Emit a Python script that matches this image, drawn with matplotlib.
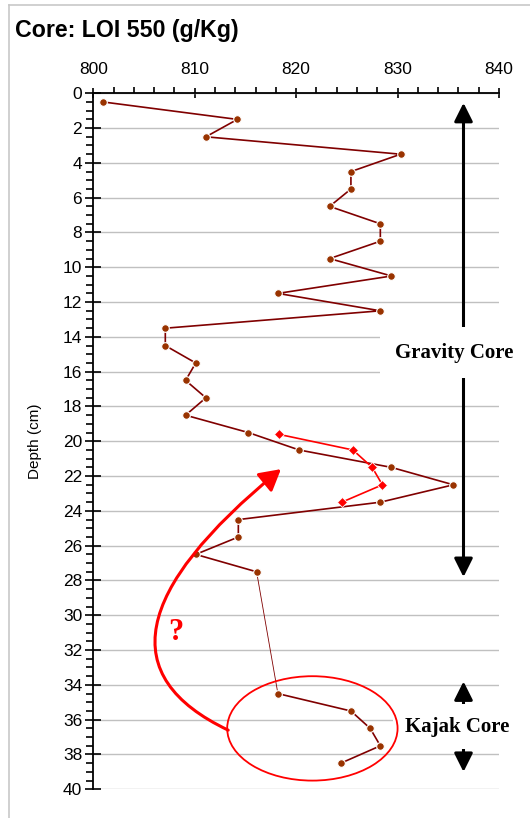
import matplotlib
matplotlib.use("Agg")
import matplotlib.pyplot as plt
from matplotlib.patches import Ellipse, FancyArrowPatch
from matplotlib.path import Path
from matplotlib.ticker import MultipleLocator

# LOI 550 (g/Kg) against depth (cm)
grav_depth = [0.5, 1.5, 2.5, 3.5, 4.5, 5.5, 6.5, 7.5, 8.5, 9.5, 10.5, 11.5, 12.5, 13.5,
              14.5, 15.5, 16.5, 17.5, 18.5, 19.5, 20.5, 21.5, 22.5, 23.5, 24.5, 25.5, 26.5, 27.5]
grav_loi = [801.0, 814.2, 811.1, 830.3, 825.4, 825.4, 823.3, 828.3, 828.3, 823.3, 829.4, 818.2,
            828.3, 807.1, 807.1, 810.1, 809.1, 811.1, 809.1, 815.3, 820.3, 829.4, 835.5, 828.3,
            814.3, 814.3, 810.1, 816.1]

kajak_depth = [34.5, 35.5, 36.5, 37.5, 38.5]
kajak_loi = [818.2, 825.4, 827.3, 828.3, 824.4]

# kajak core shifted up to where it seems to fit
shift_depth = [19.6, 20.5, 21.5, 22.5, 23.5]
shift_loi = [818.3, 825.6, 827.5, 828.5, 824.5]

plt.rcParams['font.family'] = ['Liberation Sans', 'DejaVu Sans']

fig = plt.figure(figsize=(5.3, 8.18), dpi=100)
ax = fig.add_axes([93.3 / 530, 1 - 789.3 / 818, (499 - 93.3) / 530, (789.3 - 93.3) / 818])

# light frame round the chart area
fig.add_artist(plt.Line2D([9 / 530, 9 / 530], [0, 1 - 5 / 818], transform=fig.transFigure,
                          color='#c8c8c8', lw=1.2))
fig.add_artist(plt.Line2D([9 / 530, 1], [1 - 5 / 818, 1 - 5 / 818], transform=fig.transFigure,
                          color='#c8c8c8', lw=1.2))

fig.text(15 / 530, 1 - 37 / 818, "Core: LOI 550 (g/Kg)", fontsize=16.7, fontweight='bold',
         va='baseline', ha='left')

ax.set_xlim(800, 840)
ax.set_ylim(40, 0)
ax.xaxis.tick_top()
ax.xaxis.set_major_locator(MultipleLocator(10))
ax.xaxis.set_minor_locator(MultipleLocator(2))
ax.yaxis.set_major_locator(MultipleLocator(2))
ax.yaxis.set_minor_locator(MultipleLocator(0.5))
ax.tick_params(axis='x', which='major', direction='inout', length=7, width=1.2, labelsize=12.5, pad=8)
ax.tick_params(axis='x', which='minor', direction='out', length=4, width=1.2)
ax.tick_params(axis='y', which='major', direction='inout', length=12, width=1.2, labelsize=12.5, pad=2)
ax.tick_params(axis='y', which='minor', direction='out', length=5, width=1.2)
for s in ['right', 'bottom']:
    ax.spines[s].set_visible(False)
for s in ['left', 'top']:
    ax.spines[s].set_linewidth(1.3)
ax.grid(axis='y', which='major', color='#c0c0c0', lw=1.0)
ax.set_axisbelow(True)
ax.set_ylabel("Depth (cm)", fontsize=11, labelpad=15)

# core profiles
ax.plot(grav_loi, grav_depth, color='#800000', lw=1.2, marker='o', ms=5.5,
        mfc='#993300', mec='white', mew=0.8, zorder=4)
ax.plot(kajak_loi, kajak_depth, color='#800000', lw=1.2, marker='o', ms=5.5,
        mfc='#993300', mec='white', mew=0.8, zorder=4)
ax.plot([grav_loi[-1], kajak_loi[0]], [grav_depth[-1], kajak_depth[0]],
        color='#800000', lw=0.6, zorder=3)
ax.plot(shift_loi, shift_depth, color='red', lw=1.2, marker='D', ms=5,
        mfc='red', mec='white', mew=0.6, zorder=4)

# core sections
arrow_x = 836.5
head = dict(arrowstyle='<|-|>,head_length=0.8,head_width=0.4', color='black', lw=2.2,
            mutation_scale=14, shrinkA=0, shrinkB=0)
ax.annotate('', xy=(arrow_x, 0.55), xytext=(arrow_x, 27.8), arrowprops=head,
            annotation_clip=False, zorder=2)
ax.annotate('', xy=(arrow_x, 33.8), xytext=(arrow_x, 39.0), arrowprops=head,
            annotation_clip=False, zorder=2)
ax.text(835.6, 14.9, "Gravity Core", fontsize=15, fontweight='bold', family='Liberation Serif',
        ha='center', va='center', zorder=5,
        bbox=dict(boxstyle='square,pad=0.75', facecolor='white', edgecolor='none'))
ax.text(835.9, 36.4, "Kajak Core", fontsize=15, fontweight='bold', family='Liberation Serif',
        ha='center', va='center', zorder=5,
        bbox=dict(boxstyle='square,pad=0.6', facecolor='white', edgecolor='none'))

# red ellipse and curved arrow
ax.add_patch(Ellipse((821.6, 36.5), 16.8, 6.0, facecolor='none', edgecolor='red', lw=1.3,
                     zorder=6))
curve = Path([(813.3, 36.6), (796.7, 32.0), (818.5, 21.6)],
             [Path.MOVETO, Path.CURVE3, Path.CURVE3])
ax.add_patch(FancyArrowPatch(path=curve, arrowstyle='-|>,head_length=0.8,head_width=0.45',
                             mutation_scale=16, color='red', lw=2.2, transform=ax.transData,
                             clip_on=False, zorder=6))
ax.text(808.1, 31.0, "?", fontsize=22, fontweight='bold', family='Liberation Serif',
        color='red', ha='center', va='center', zorder=6)

fig.savefig("out.png", dpi=100)
